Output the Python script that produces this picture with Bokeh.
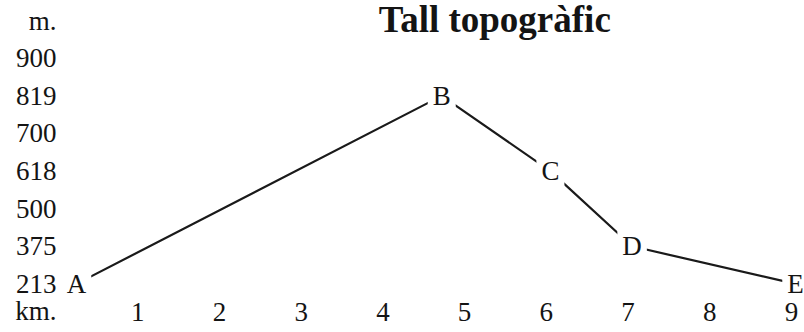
from bokeh.plotting import figure
from bokeh.models import Range1d, FixedTicker, Label
from bokeh.embed import file_html
from bokeh.resources import INLINE

# ---- data ----
title_text = "Tall topogràfic"
elev_ticks = [213, 375, 500, 618, 700, 819, 900]   # y tick labels (evenly spaced rows)
y_unit = "m."
x_unit = "km."
km_ticks = [1, 2, 3, 4, 5, 6, 7, 8, 9]
point_names = ["A", "B", "C", "D", "E"]
point_km = [0.25, 4.72, 6.05, 7.05, 9.05]
point_elev = [213, 819, 618, 375, 213]

# rows on the (non-linear, evenly spaced) elevation scale
point_rows = [elev_ticks.index(v) for v in point_elev]

FONT = "Liberation Serif"
TXT = "#141414"
FS = "27px"
KM_ROW = -0.73          # layout row of the "km." label (aligned with x tick labels)

p = figure(width=804, height=332, output_backend="svg", toolbar_location=None,
           x_range=Range1d(0.054, 9.16), y_range=Range1d(-1.08, 7.537),
           min_border_left=60, min_border_right=0, min_border_top=0,
           min_border_bottom=8, outline_line_color=None,
           background_fill_color="white", border_fill_color="white")
p.grid.visible = False

xa = p.xaxis[0]
xa.ticker = FixedTicker(ticks=km_ticks)
xa.axis_line_color = None
xa.major_tick_line_color = None
xa.minor_tick_line_color = None
xa.major_tick_out = 0
xa.major_tick_in = 0
xa.major_label_standoff = -22
xa.major_label_text_font = FONT
xa.major_label_text_font_size = FS
xa.major_label_text_color = TXT

# y axis: "km." row, elevation rows, "m." row
ya = p.yaxis[0]
ya.ticker = FixedTicker(ticks=[KM_ROW] + list(range(len(elev_ticks) + 1)))
overrides = {i: str(v) for i, v in enumerate(elev_ticks)}
overrides[len(elev_ticks)] = y_unit
overrides[KM_ROW] = x_unit
ya.major_label_overrides = overrides
ya.axis_line_color = None
ya.major_tick_line_color = None
ya.minor_tick_line_color = None
ya.major_tick_out = 0
ya.major_tick_in = 0
ya.major_label_standoff = 4
ya.major_label_text_font = FONT
ya.major_label_text_font_size = FS
ya.major_label_text_color = TXT

# profile line
p.line(point_km, point_rows, line_width=2.2, line_color="#1a1a1a")

# point letters with white boxes that open gaps in the line
# (drawn at glyph level so they stay beneath the axis tick labels)
for name, xk, yr in zip(point_names, point_km, point_rows):
    p.add_layout(Label(x=xk, y=yr, text=name, text_align="center",
                       text_baseline="middle", text_font=FONT,
                       text_font_size=FS, text_color=TXT, level="glyph",
                       background_fill_color="white", padding=5))

# title
p.add_layout(Label(x=5.37, y=len(elev_ticks), y_offset=1, text=title_text,
                   text_align="center", text_baseline="middle",
                   text_font=FONT, text_font_size="37px",
                   text_font_style="bold", text_color=TXT))

open("out.html", "w").write(file_html(p, INLINE))
